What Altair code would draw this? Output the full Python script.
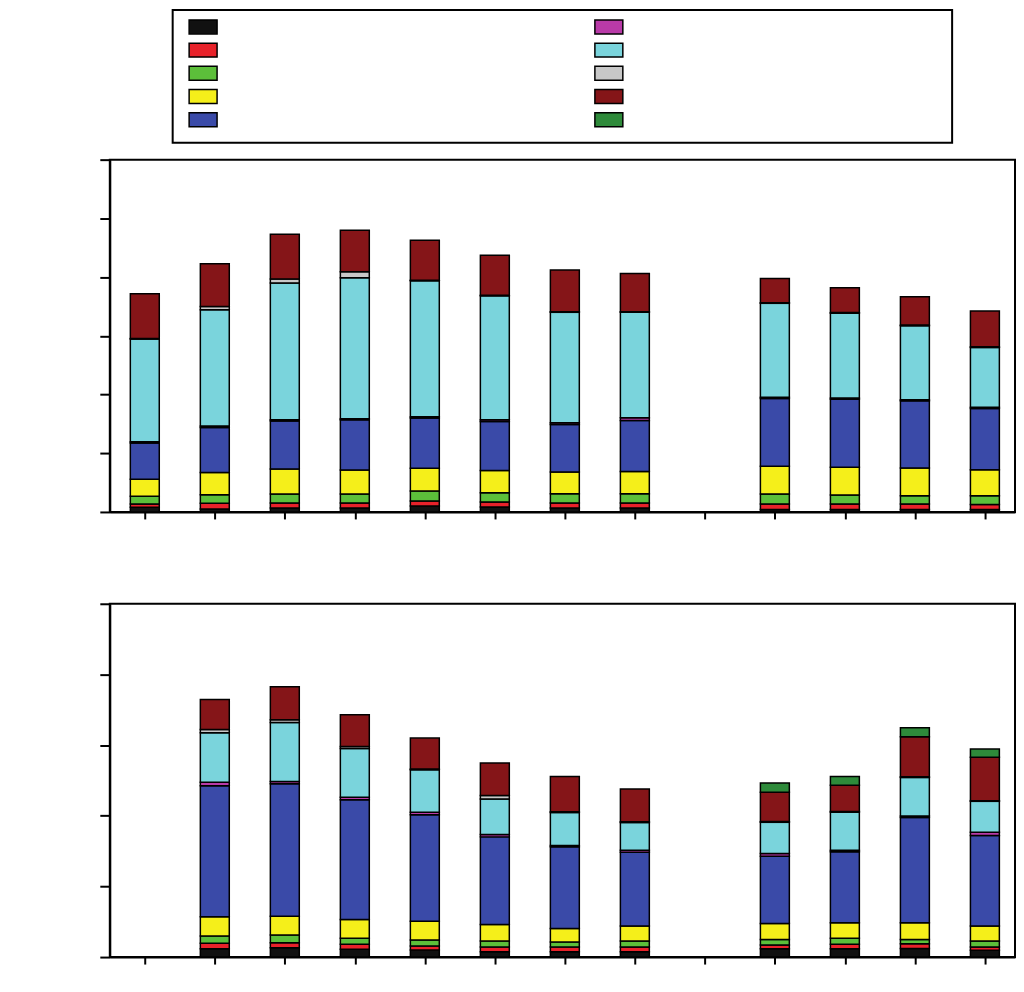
import altair as alt
import pandas as pd

series = ["s1", "s2", "s3", "s4", "s5", "s6", "s7", "s8", "s9", "s10"]
colors = ["#111111", "#e8222a", "#5cbf3a", "#f5ef1a", "#3a4aa8",
          "#b93aa8", "#7ad4dc", "#c8c8c8", "#851518", "#2e8a3a"]
positions = list(range(13))

# Upper panel (0 = no segment)
top_black   = [0.08, 0.05, 0.068, 0.068, 0.10, 0.085, 0.068, 0.068, 0, 0.04, 0.04, 0.04, 0.04]
top_red     = [0.056, 0.097, 0.085, 0.085, 0.085, 0.085, 0.085, 0.085, 0, 0.097, 0.097, 0.097, 0.085]
top_green   = [0.13, 0.146, 0.153, 0.153, 0.17, 0.158, 0.158, 0.158, 0, 0.17, 0.153, 0.14, 0.153]
top_yellow  = [0.29, 0.38, 0.425, 0.408, 0.39, 0.379, 0.369, 0.379, 0, 0.47, 0.47, 0.47, 0.44]
top_blue    = [0.62, 0.765, 0.82, 0.855, 0.855, 0.833, 0.81, 0.867, 0, 1.156, 1.16, 1.145, 1.044]
top_magenta = [0.02, 0.025, 0.02, 0.02, 0.02, 0.03, 0.03, 0.046, 0, 0.02, 0.02, 0.02, 0.02]
top_cyan    = [1.75, 1.98, 2.33, 2.40, 2.317, 2.11, 1.88, 1.797, 0, 1.60, 1.445, 1.26, 1.02]
top_gray    = [0.01, 0.058, 0.068, 0.10, 0.01, 0.01, 0.01, 0.01, 0, 0.01, 0.01, 0.01, 0.01]
top_darkred = [0.76, 0.724, 0.76, 0.707, 0.68, 0.68, 0.709, 0.651, 0, 0.413, 0.425, 0.483, 0.612]
top_dkgreen = [0, 0, 0, 0, 0, 0, 0, 0, 0, 0, 0, 0, 0]

# Lower panel
bot_black   = [0, 0.119, 0.133, 0.109, 0.099, 0.076, 0.076, 0.076, 0, 0.119, 0.119, 0.123, 0.095]
bot_red     = [0, 0.075, 0.071, 0.071, 0.056, 0.065, 0.065, 0.065, 0, 0.051, 0.061, 0.066, 0.047]
bot_green   = [0, 0.103, 0.107, 0.085, 0.085, 0.085, 0.071, 0.085, 0, 0.08, 0.085, 0.061, 0.085]
bot_yellow  = [0, 0.274, 0.268, 0.268, 0.268, 0.236, 0.194, 0.212, 0, 0.226, 0.222, 0.236, 0.212]
bot_blue    = [0, 1.855, 1.874, 1.695, 1.507, 1.239, 1.154, 1.045, 0, 0.951, 1.003, 1.49, 1.28]
bot_magenta = [0, 0.047, 0.033, 0.033, 0.033, 0.033, 0.02, 0.028, 0, 0.038, 0.02, 0.02, 0.047]
bot_cyan    = [0, 0.70, 0.833, 0.692, 0.603, 0.504, 0.466, 0.395, 0, 0.442, 0.541, 0.547, 0.438]
bot_gray    = [0, 0.047, 0.038, 0.028, 0.01, 0.047, 0.01, 0.01, 0, 0.01, 0.01, 0.01, 0.01]
bot_darkred = [0, 0.424, 0.47, 0.448, 0.438, 0.462, 0.499, 0.462, 0, 0.415, 0.371, 0.565, 0.613]
bot_dkgreen = [0, 0, 0, 0, 0, 0, 0, 0, 0, 0.131, 0.123, 0.127, 0.117]

top_series = [top_black, top_red, top_green, top_yellow, top_blue,
              top_magenta, top_cyan, top_gray, top_darkred, top_dkgreen]
bot_series = [bot_black, bot_red, bot_green, bot_yellow, bot_blue,
              bot_magenta, bot_cyan, bot_gray, bot_darkred, bot_dkgreen]


def to_df(all_series):
    rows = []
    for idx, (name, vals) in enumerate(zip(series, all_series)):
        for p, v in zip(positions, vals):
            if v > 0:
                rows.append({"pos": p, "series": name, "idx": idx, "value": v})
    return pd.DataFrame(rows)


color_scale = alt.Scale(domain=series, range=colors)


def panel(df, ymax, h):
    return alt.Chart(df).mark_bar(size=29, stroke="black", strokeWidth=1.5).encode(
        x=alt.X("pos:Q", scale=alt.Scale(domain=[-0.5, 12.43], nice=False, zero=False, padding=0),
                axis=alt.Axis(values=positions, labels=False, title=None, grid=False, tickSize=7)),
        y=alt.Y("value:Q", stack="zero", scale=alt.Scale(domain=[0, ymax], nice=False),
                axis=alt.Axis(values=list(range(ymax + 1)), labels=False, title=None,
                              grid=False, tickSize=10)),
        color=alt.Color("series:N", scale=color_scale, legend=None),
        order=alt.Order("idx:Q", sort="ascending"),
    ).properties(width=907, height=h)


top = panel(to_df(top_series), 6, 353)
bottom = panel(to_df(bot_series), 5, 354)

leg_df = pd.DataFrame({
    "series": series,
    "col": [i // 5 for i in range(len(series))],
    "row": [i % 5 for i in range(len(series))],
})

legend = alt.Chart(leg_df).mark_point(
    shape="M-1,-0.5H1V0.5H-1Z", size=784, filled=True, opacity=1,
    stroke="black", strokeWidth=1.5
).encode(
    x=alt.X("col:Q", scale=alt.Scale(domain=[-0.075, 1.846], nice=False, zero=False, padding=0), axis=None),
    y=alt.Y("row:Q", scale=alt.Scale(domain=[-0.731, 4.989], reverse=True, nice=False, zero=False, padding=0),
            axis=alt.Axis(labels=False, title=None, grid=False, tickSize=10, values=[0, 4],
                          tickColor="transparent", domainColor="transparent")),
    fill=alt.Fill("series:N", scale=color_scale, legend=None),
).properties(width=781, height=133)

chart = alt.vconcat(
    legend,
    alt.vconcat(top, bottom, spacing=81),
    spacing=14,
    center=True,
).properties(
    padding={"left": 90, "top": 0, "right": 0, "bottom": 0},
    background="white",
).configure_view(
    stroke="black", strokeWidth=2
).configure_axis(
    domainColor="black", domainWidth=2, tickColor="black", tickWidth=2
)

chart.save("out.html", embed_options={"renderer": "svg", "actions": False})
